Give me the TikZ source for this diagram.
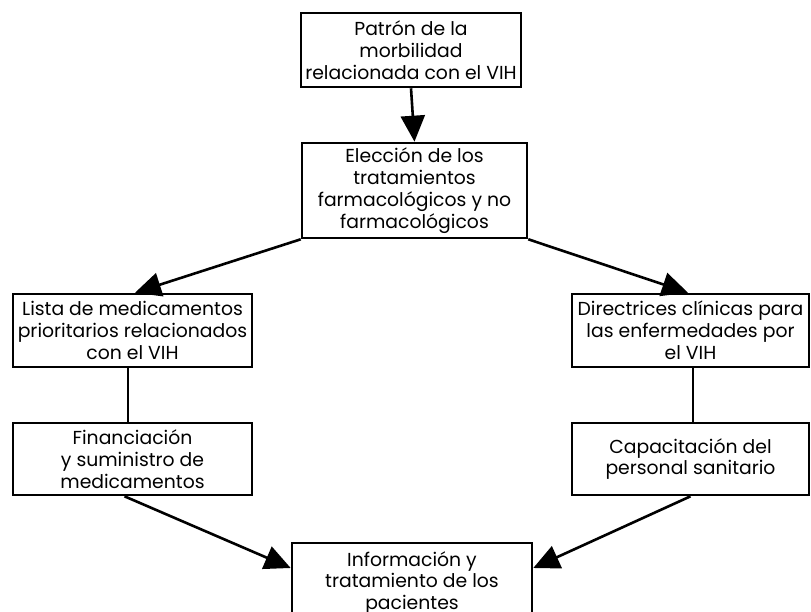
\documentclass[tikz,border=0pt]{standalone}
\usepackage{fontspec}
\setmainfont{Poppins}
\usetikzlibrary{arrows.meta,calc}
\begin{document}
\begin{tikzpicture}[x=1pt,y=-1pt,
  box/.style={draw,line width=2.6pt,align=center,inner sep=0pt,
    font=\fontsize{18.8}{21.8}\selectfont},
  arr/.style={line width=2.6pt,-{Triangle[length=26pt,width=24pt]}},
  ln/.style={line width=2.6pt}]
\useasboundingbox (0,0) rectangle (811,612);
\node[box,minimum width=220pt,minimum height=74pt] (b1) at (411,50) {Patrón de la\\morbilidad\\relacionada con el VIH};
\node[box,minimum width=225pt,minimum height=95pt] (b2) at (414.5,190.5) {Elección de los\\tratamientos\\farmacológicos y no\\farmacológicos};
\node[box,minimum width=239pt,minimum height=73pt] (b3) at (132.5,330.5) {Lista de medicamentos\\prioritarios relacionados\\con el VIH};
\node[box,minimum width=237pt,minimum height=73pt] (b4) at (690.5,330.5) {Directrices clínicas para\\las enfermedades por\\el VIH};
\node[box,minimum width=239pt,minimum height=72pt] (b5) at (132.5,459) {Financiación\\y suministro de\\medicamentos};
\node[box,minimum width=237pt,minimum height=72pt] (b6) at (690.5,459) {Capacitación del\\personal sanitario};
\node[box,minimum width=240pt,minimum height=80pt] (b7) at (412,583) {Información y\\tratamiento de los\\pacientes};
\draw[arr] (b1.south) -- (b2.north);
\draw[arr] (b2.south west) -- ([xshift=2.5pt]b3.north);
\draw[arr] (b2.south east) -- ([xshift=-2.5pt]b4.north);
\draw[ln] ([xshift=-4.5pt]b3.south) -- ([xshift=-4.5pt]b3.south |- b5.north);
\draw[ln] ([xshift=2.5pt]b4.south) -- ([xshift=2.5pt]b4.south |- b6.north);
\draw[arr] ([xshift=-8pt]b5.south) -- ([yshift=15pt]b7.west);
\draw[arr] (b6.south) -- ([yshift=15pt]b7.east);
\end{tikzpicture}
\end{document}
